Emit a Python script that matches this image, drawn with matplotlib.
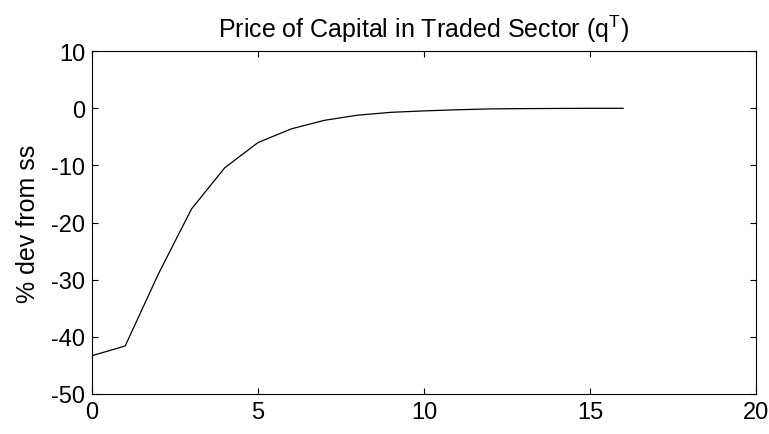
import matplotlib
matplotlib.use('Agg')
import matplotlib.pyplot as plt

periods = list(range(0, 17))
qT = [-43.3, -41.6, -29.0, -17.6, -10.4, -6.0, -3.6, -2.1, -1.2, -0.7,
      -0.45, -0.25, -0.1, -0.05, -0.02, 0.0, 0.0]

plt.rcParams['font.family'] = ['Liberation Sans', 'DejaVu Sans']
plt.rcParams['axes.unicode_minus'] = False

fig = plt.figure(figsize=(7.69, 4.35), dpi=100)
ax = fig.add_axes([0.1196, 0.092, 0.8634, 0.788])
ax.plot(periods, qT, color='black', linewidth=0.9)
ax.set_xlim(0, 20)
ax.set_ylim(-50, 10)
ax.set_xticks([0, 5, 10, 15, 20])
ax.set_yticks([-50, -40, -30, -20, -10, 0, 10])
ax.tick_params(direction='in', top=True, right=True, labelsize=17, length=4, pad=5)
ax.set_ylabel('% dev from ss', fontsize=18, labelpad=8)
ax.set_title('Price of Capital in Traded Sector (q$^\\mathregular{T}$)', fontsize=18, pad=10)
fig.savefig('out.png', dpi=100)
